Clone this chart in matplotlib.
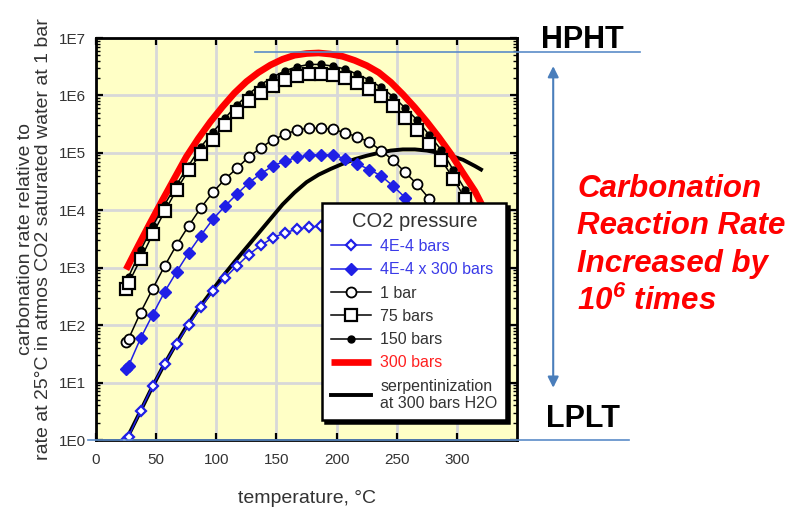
import numpy as np
import matplotlib
matplotlib.use("Agg")
import matplotlib.pyplot as plt
from matplotlib.ticker import FuncFormatter, LogLocator, NullFormatter

plt.rcParams['font.family'] = ['Liberation Sans', 'DejaVu Sans']
plt.rcParams['mathtext.fontset'] = 'custom'
plt.rcParams['mathtext.rm'] = 'Liberation Sans:bold:italic'
plt.rcParams['mathtext.it'] = 'Liberation Sans:bold:italic'

# temperatures (deg C) of the model points: 25 C, then 300 K, 310 K, ...
temp_c = [25, 27, 37, 47, 57, 67, 77, 87, 97, 107, 117, 127, 137, 147, 157,
          167, 177, 187, 197, 207, 217, 227, 237, 247, 257, 267, 277, 287,
          297, 307, 317]

# log10 of rate relative to 25 C / 1 bar, one list per CO2 pressure
log_4e4 = [0.00, 0.06, 0.51, 0.94, 1.33, 1.68, 2.01, 2.31, 2.59, 2.82, 3.03,
           3.23, 3.39, 3.52, 3.61, 3.67, 3.71, 3.72, 3.71, 3.64, 3.56, 3.46,
           3.35, 3.17, 2.97]
log_4e4x300 = [1.23, 1.29, 1.77, 2.18, 2.58, 2.93, 3.26, 3.56, 3.84, 4.07,
               4.28, 4.48, 4.64, 4.77, 4.86, 4.92, 4.96, 4.97, 4.96, 4.90,
               4.81, 4.71, 4.60, 4.42, 4.22, 3.98]
log_1bar = [1.70, 1.76, 2.22, 2.63, 3.03, 3.40, 3.73, 4.04, 4.31, 4.54, 4.73,
            4.93, 5.09, 5.23, 5.32, 5.40, 5.43, 5.43, 5.41, 5.35, 5.28, 5.19,
            5.04, 4.87, 4.66, 4.45, 4.20, 3.90, 3.55]
log_75bar = [2.63, 2.73, 3.15, 3.58, 3.98, 4.36, 4.70, 4.98, 5.23, 5.49,
             5.72, 5.90, 6.05, 6.17, 6.27, 6.34, 6.38, 6.38, 6.36, 6.30,
             6.22, 6.12, 5.99, 5.82, 5.61, 5.40, 5.15, 4.88, 4.55, 4.20, 3.80]
log_150bar = [2.75, 2.84, 3.30, 3.72, 4.10, 4.45, 4.78, 5.10, 5.36, 5.60,
              5.83, 6.03, 6.19, 6.32, 6.43, 6.50, 6.54, 6.54, 6.51, 6.46,
              6.37, 6.27, 6.14, 5.98, 5.78, 5.57, 5.31, 5.05, 4.70, 4.35, 3.95]

temp_300bar = [25, 35, 45, 55, 65, 75, 85, 95, 105, 115, 125, 135, 145, 155,
               165, 175, 185, 195, 205, 215, 225, 235, 245, 255, 265, 275,
               285, 295, 305, 315, 325]
log_300bar = [2.97, 3.38, 3.78, 4.17, 4.55, 4.93, 5.25, 5.54, 5.80, 6.04,
              6.24, 6.40, 6.53, 6.63, 6.70, 6.73, 6.74, 6.72, 6.68, 6.61,
              6.52, 6.40, 6.23, 6.02, 5.79, 5.54, 5.27, 4.98, 4.65, 4.33, 3.92]

temp_serp = [25, 35, 45, 55, 65, 75, 85, 95, 105, 115, 125, 135, 145, 155,
             165, 175, 185, 195, 205, 215, 225, 235, 245, 255, 265, 275, 285,
             295, 305, 315, 320]
log_serp = [0.00, 0.42, 0.85, 1.25, 1.62, 1.97, 2.28, 2.56, 2.84, 3.10, 3.35,
            3.60, 3.85, 4.10, 4.31, 4.49, 4.62, 4.72, 4.81, 4.89, 4.95, 5.00,
            5.04, 5.06, 5.06, 5.04, 5.00, 4.95, 4.88, 4.77, 4.71]

hpht_level = 10 ** 6.75
lplt_level = 1.0


def pts(log_vals, temps=temp_c):
    return temps[:len(log_vals)], 10 ** np.array(log_vals)


blue = '#1F1FE6'
fig = plt.figure(figsize=(7.99, 5.13), dpi=100)
ax = fig.add_axes([0.1202, 0.1423, 0.527, 0.7836])
ax.set_facecolor('#FFFFC6')

ax.plot(*pts(log_serp, temp_serp), color='black', lw=2.8, zorder=2,
        label='serpentinization\nat 300 bars H2O')
ax.plot(*pts(log_300bar, temp_300bar), color='#FF0000', lw=4.8, zorder=2.1,
        label='300 bars', solid_capstyle='butt')
ax.plot(*pts(log_4e4), color=blue, lw=1.1, marker='D', ms=5.5, mfc='white',
        mec=blue, mew=1.6, zorder=3, label='4E-4 bars')
ax.plot(*pts(log_4e4x300), color=blue, lw=1.1, marker='D', ms=6.5, mfc=blue,
        mec=blue, zorder=3, label='4E-4 x 300 bars')
ax.plot(*pts(log_1bar), color='black', lw=1.1, marker='o', ms=7.2, mfc='white',
        mec='black', mew=1.3, zorder=3, label='1 bar')
ax.plot(*pts(log_150bar), color='black', lw=1.1, marker='o', ms=5,
        mfc='black', mec='black', zorder=3.1, label='150 bars')
ax.plot(*pts(log_75bar), color='black', lw=1.1, marker='s', ms=8, mfc='white',
        mec='black', mew=1.6, zorder=3.2, label='75 bars')

ax.set_xlim(0, 350)
ax.set_ylim(1, 1e7)
ax.set_yscale('log')
ax.set_xticks([0, 50, 100, 150, 200, 250, 300])
ax.set_yticks([10.0 ** k for k in range(8)])
ax.yaxis.set_minor_locator(LogLocator(base=10, subs=np.arange(2, 10), numticks=20))
ax.yaxis.set_minor_formatter(NullFormatter())
ax.yaxis.set_major_formatter(FuncFormatter(lambda v, p: f'1E{int(round(np.log10(v)))}'))
ax.grid(True, which='major', color='#D8D8D8', lw=2)
ax.set_axisbelow(True)
ax.tick_params(which='both', direction='in', top=True, right=True,
               labelsize=11, labelcolor='#333333')
ax.tick_params(which='major', length=5, width=1.6)
ax.tick_params(which='minor', length=3, width=1)
ax.tick_params(axis='x', pad=9)
ax.tick_params(axis='y', pad=7)
for s in ax.spines.values():
    s.set_linewidth(2)

ax.set_xlabel('temperature, \u00b0C', fontsize=14, color='#333333', labelpad=17)
ax.set_ylabel('carbonation rate relative to\nrate at 25\u00b0C in atmos CO2 saturated water at 1 bar',
              fontsize=14, color='#333333', labelpad=5, linespacing=1.1)

handles, labels = ax.get_legend_handles_labels()
order = ['4E-4 bars', '4E-4 x 300 bars', '1 bar', '75 bars', '150 bars',
         '300 bars', 'serpentinization\nat 300 bars H2O']
hmap = dict(zip(labels, handles))
leg = ax.legend([hmap[k] for k in order], order, title='CO2 pressure',
                loc='upper left', bbox_to_anchor=(0.537, 0.59),
                borderaxespad=0, fontsize=11.5, title_fontsize=14.5,
                handlelength=2.5, labelspacing=0.52, borderpad=0.55,
                handletextpad=0.6, fancybox=False, framealpha=1,
                edgecolor='black', shadow={'color': 'black', 'alpha': 1})
leg.get_frame().set_linewidth(1.8)
leg.get_title().set_color('#333333')
text_colors = ['#3A3AE8', '#3A3AE8', '#333333', '#333333', '#333333',
               '#FF2020', '#333333']
for t, c in zip(leg.get_texts(), text_colors):
    t.set_color(c)

# HPHT / LPLT reference lines and the span arrow
line_blue = '#5B8CC8'
ax.plot([132, 452], [hpht_level, hpht_level], color=line_blue, lw=1.2,
        clip_on=False, zorder=4)
ax.plot([-7, 443], [lplt_level, lplt_level], color=line_blue, lw=1.2,
        clip_on=False, zorder=4)
ax.annotate('', xy=(380, 10 ** 6.51), xytext=(380, 10 ** 0.91),
            arrowprops=dict(arrowstyle='<|-|>', color='#4A7EBB', lw=1.5,
                            mutation_scale=16, shrinkA=0, shrinkB=0),
            annotation_clip=False)

fig.text(0.7284, 1 - 48 / 513, 'HPHT', fontsize=22, fontweight='bold',
         ha='center', va='baseline')
fig.text(0.7297, 1 - 427 / 513, 'LPLT', fontsize=22, fontweight='bold',
         ha='center', va='baseline')
red_lines = ['Carbonation', 'Reaction Rate', 'Increased by', '10$^6$ times']
for txt, base in zip(red_lines, [197, 234, 272, 310]):
    fig.text(577 / 799, 1 - base / 513, txt, fontsize=22.5, fontweight='bold',
             fontstyle='italic', color='#FF0000', ha='left', va='baseline')

fig.savefig('out.png', dpi=100)
